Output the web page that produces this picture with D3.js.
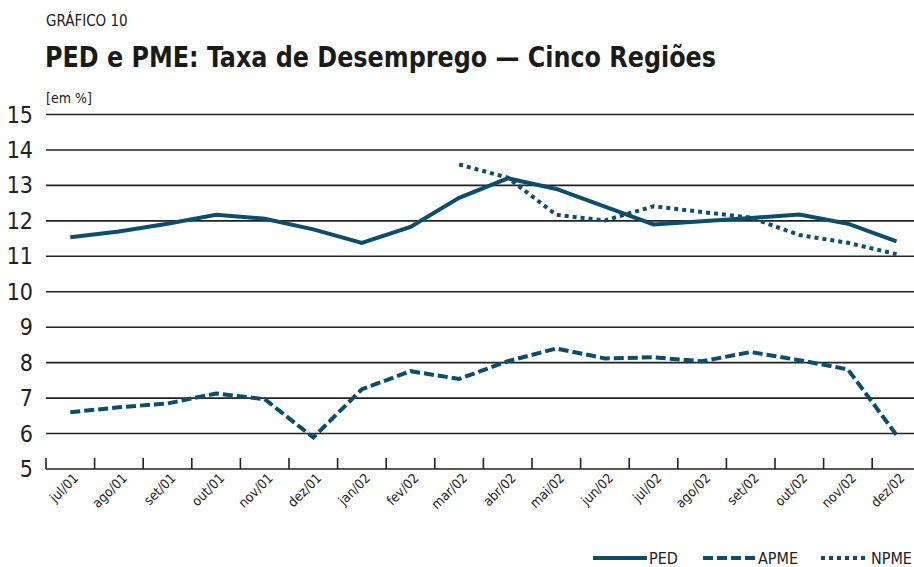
<!DOCTYPE html>
<html>
<head>
<meta charset="utf-8">
<script src="https://cdn.jsdelivr.net/npm/d3@7"></script>
<style>
  body { margin: 0; background: #fff; }
  svg { display: block; }
  text { font-family: "DejaVu Sans Condensed", "Open Sans", sans-serif; fill: #1a1a1a; }
</style>
</head>
<body>
<div class="chart"></div>
<script>
var width = 914, height = 567

var months = ["jul/01","ago/01","set/01","out/01","nov/01","dez/01","jan/02","fev/02","mar/02",
  "abr/02","mai/02","jun/02","jul/02","ago/02","set/02","out/02","nov/02","dez/02"]
var ped = [11.54, 11.7, 11.92, 12.17, 12.06, 11.76, 11.38, 11.83, 12.65,
  13.2, 12.9, 12.4, 11.9, 11.99, 12.08, 12.18, 11.92, 11.42]
var apme = [6.6, 6.74, 6.85, 7.13, 6.97, 5.89, 7.25, 7.76, 7.54,
  8.04, 8.4, 8.12, 8.15, 8.04, 8.3, 8.07, 7.81, 5.96]
var npme = [null, null, null, null, null, null, null, null, 13.59,
  13.22, 12.17, 12.01, 12.41, 12.25, 12.09, 11.6, 11.38, 11.06]
var yTicks = [5, 6, 7, 8, 9, 10, 11, 12, 13, 14, 15]

var blue = "#0b4d6b"

const svg = d3.select(".chart")
    .append("svg")
    .attr("width", width)
    .attr("height", height)

var x = d3.scaleBand().domain(months).range([46, 46 + 18 * 48.6])
var y = d3.scaleLinear().domain([5, 15]).range([469, 114.5])

// titles
svg.append("text").attr("x", 46).attr("y", 26)
    .style("font-size", "15px").text("GRÁFICO 10")
svg.append("text").attr("x", 45).attr("y", 67)
    .style("font-size", "29px").style("font-weight", "bold")
    .attr("textLength", 671).attr("lengthAdjust", "spacingAndGlyphs")
    .text("PED e PME: Taxa de Desemprego — Cinco Regiões")
svg.append("text").attr("x", 46).attr("y", 103)
    .style("font-size", "14px").text("[em %]")

// gridlines
svg.append("g").selectAll("line")
    .data(yTicks.filter(function(d){ return d > 5 }))
    .enter().append("line")
    .attr("x1", 46).attr("x2", width)
    .attr("y1", function(d){ return y(d) }).attr("y2", function(d){ return y(d) })
    .attr("stroke", "#222").attr("stroke-width", 1.6)

svg.append("g").selectAll("text")
    .data(yTicks)
    .enter().append("text")
    .attr("x", 33).attr("y", function(d){ return y(d) + 8 })
    .attr("text-anchor", "end")
    .style("font-size", "23px").style("fill", "#222")
    .text(function(d){ return d })

// x axis
svg.append("line").attr("x1", 46).attr("x2", width).attr("y1", 469).attr("y2", 469)
    .attr("stroke", "#222").attr("stroke-width", 1.6)
svg.append("g").selectAll("line")
    .data(months)
    .enter().append("line")
    .attr("x1", function(d){ return x(d) }).attr("x2", function(d){ return x(d) })
    .attr("y1", 458).attr("y2", 469)
    .attr("stroke", "#222").attr("stroke-width", 1.6)
svg.append("g").selectAll("text")
    .data(months)
    .enter().append("text")
    .attr("text-anchor", "end")
    .attr("transform", function(d){
        return "translate(" + (x(d) + x.bandwidth() / 2 + 9) + ",479) rotate(-45)" })
    .style("font-size", "13.5px").style("fill", "#222")
    .text(function(d){ return d })

// series
var line = d3.line()
    .defined(function(d){ return d != null })
    .x(function(d, i){ return x(months[i]) + x.bandwidth() / 2 })
    .y(function(d){ return y(d) })

var series = [
  {name: "PED", values: ped, dash: null},
  {name: "APME", values: apme, dash: "10,4"},
  {name: "NPME", values: npme, dash: "4,4"}
]

svg.append("g").selectAll("path")
    .data(series)
    .enter().append("path")
    .attr("d", function(d){ return line(d.values) })
    .attr("fill", "none")
    .attr("stroke", blue)
    .attr("stroke-width", 4)
    .attr("stroke-dasharray", function(d){ return d.dash })

// legend
var legendPos = [[593, 647], [703, 756], [821, 869]]
var lg = svg.append("g").selectAll("g")
    .data(series)
    .enter().append("g")
lg.append("line")
    .attr("x1", function(d, i){ return legendPos[i][0] })
    .attr("x2", function(d, i){ return legendPos[i][1] })
    .attr("y1", 558).attr("y2", 558)
    .attr("stroke", blue).attr("stroke-width", 4)
    .attr("stroke-dasharray", function(d){ return d.dash })
lg.append("text")
    .attr("x", function(d, i){ return legendPos[i][1] + 2 })
    .attr("y", 564)
    .style("font-size", "16px").style("fill", "#222")
    .text(function(d){ return d.name })
</script>
</body>
</html>
